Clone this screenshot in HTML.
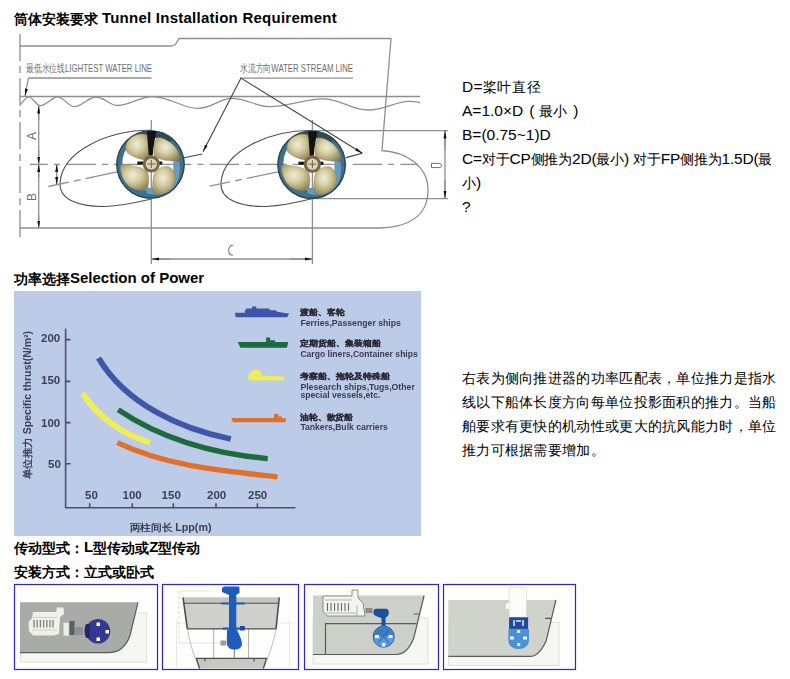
<!DOCTYPE html>
<html><head><meta charset="utf-8">
<style>
html,body{margin:0;padding:0;background:#fff;width:790px;height:679px;overflow:hidden;position:relative}
body{font-family:"Liberation Sans",sans-serif;font-size:14px;color:#000}
.t{position:absolute;white-space:nowrap}
.h{font-weight:bold}
.L{font-size:15.5px}
.h .L{font-size:15px;position:relative;top:-1px}
svg{position:absolute;left:0;top:0}
</style></head><body>
<svg width="790" height="679" viewBox="0 0 790 679">
<defs>
  <marker id="ar" viewBox="0 0 10 4" refX="10" refY="2" markerWidth="7.5" markerHeight="3.3" orient="auto" markerUnits="userSpaceOnUse">
    <path d="M0,0 L10,2 L0,4 z" fill="#111"/>
  </marker>
  <radialGradient id="blade" cx="0.45" cy="0.4" r="0.75">
    <stop offset="0" stop-color="#efeddc"/>
    <stop offset="0.4" stop-color="#d3ca9c"/>
    <stop offset="1" stop-color="#7f7347"/>
  </radialGradient>
  <g id="prop">
    <path fill-rule="evenodd" fill="#40708a" d="M-35,0 A34.2,34.2 0 1 0 33.4,0 A34.2,34.2 0 1 0 -35,0 z M-29,-1.5 A27,27 0 1 0 25,-1.5 A27,27 0 1 0 -29,-1.5 z"/>
    <circle cx="-0.8" cy="0" r="33.6" fill="none" stroke="#2a4855" stroke-width="1.4"/>
    <path d="M-20,-27 A34,34 0 0 1 22,-26 L17,-21 A27,27 0 0 0 -15,-22 z" fill="#2c4a58"/>
    
    <path d="M-5,23 C4,24 15,20 22,13 L22,-3 L28,-3 C30,10 27,21 18,27 C9,31 -1,31 -5,28 z" fill="#659ac2"/>
    <path d="M-3,-5 C-8,-4 -16,-6 -24,-12 C-28,-18 -24,-27 -14,-30 C-8,-31.5 -3,-30 -2,-27 C-1,-20 -1,-12 -3,-5 z" fill="url(#blade)" stroke="#8e8458" stroke-width="0.5"/>
    <path d="M3,-8 C2,-16 3,-24 6,-27 C14,-27 24,-20 27,-12 C29,-6 28,-3 25,-3 C18,-4 10,-4 3,-8 z" fill="url(#blade)" stroke="#8e8458" stroke-width="0.5"/>
    <path d="M-31,1 C-22,0 -10,2 -4,7 C-2,12 -2,19 -4,24 C-8,27 -16,26 -22,22 C-28,17 -31,9 -31,1 z" fill="url(#blade)" stroke="#8e8458" stroke-width="0.5"/>
    <path d="M3,9 C6,4 12,1.5 17,2 C22,4 25,10 24,17 C22,24 16,29 8,30 C4,30 2,29 1.5,27 C1,20 1.5,14 3,9 z" fill="url(#blade)" stroke="#8e8458" stroke-width="0.5"/>
    <path d="M-4,-33.5 L5,-33.5 C4,-28 3,-22 2,-16 L1.5,-9 L-2.5,-9 C-3,-15 -3.5,-22 -4,-28 z" fill="#121212"/>
    <rect x="-14" y="-3" width="25" height="3.2" fill="#1a1a1a"/>
    <circle cx="0" cy="-0.5" r="8.6" fill="#7a6843"/>
    <circle cx="0" cy="-0.5" r="5.6" fill="#dcd6c0"/>
    <path d="M-4,-0.5 h8 M0,-4.5 v8" stroke="#6d6148" stroke-width="1"/>
  </g>
</defs>
<!-- diagram 1 -->
<g fill="none" stroke="#8f8f8f" stroke-width="1.3">
  <line x1="20" y1="34" x2="20" y2="239" stroke-dasharray="27,5,7,5"/>
  <path d="M20,46 L171,46 Q175,46 177,42 L179,38.5 L391,38.5 L382,150.5 C405,152 428,165 428,190 C428,215 410,227 380,228 L20,228"/>
  <line x1="20" y1="96.5" x2="420" y2="96.5"/>
  <path d="M20,105.6 C24,100 26,96.8 28.8,96.8 C33,96.8 36,105.6 40,105.6 C47,105.6 52,96.8 57.4,96.8 C64,96.8 68,106.6 74,106.6 C82,106.6 89,97 95.7,97 C104,97 110,105.5 117,105.5 C130,105.5 140,96.6 152,96.6 C170,96.6 182,108.4 198,108.4 C212,108.4 220,98.3 231,98.3 C248,98.3 255,106.6 269,106.6 C290,106.6 305,98.8 322,98.8 C342,98.8 350,110 368,110 C385,110 396,101.3 408,101.3 C414,101.3 418,102 420,102.6"/>
  <!-- center line -->
  <line x1="29.8" y1="164.4" x2="47.8" y2="164.4"/>
  <line x1="53.9" y1="164.4" x2="59.9" y2="164.4"/>
  <line x1="66.5" y1="164.4" x2="418" y2="164.4" stroke-dasharray="29.5,6,6,6.2"/>
  <!-- ellipses -->
  <path stroke="#505050" stroke-width="1.1" d="M151,130.3 C110,130 62,150 60,183 C59,200 80,207 105,206.5 C125,205.5 140,201.5 151,199"/>
  <path stroke="#505050" stroke-width="1.1" d="M312,130.5 C271,130 223,150 221,183 C220,200 241,207 266,206.5 C286,205.5 301,201.5 312,198.7"/>
  <line x1="312" y1="130.6" x2="448" y2="130.6"/>
  <line x1="312" y1="198.7" x2="448" y2="198.7"/>
  <!-- verticals -->
  <line x1="151.3" y1="120" x2="151.3" y2="264"/>
  <line x1="312.4" y1="120" x2="312.4" y2="264"/>
  <!-- slanted flow lines -->
  <line x1="48.4" y1="186.5" x2="118" y2="171.6" stroke-dasharray="21,5,7,5,50"/>
  <line x1="209.6" y1="186.2" x2="279" y2="171.6" stroke-dasharray="21,5,7,5,50"/>
  <polyline stroke="#404040" stroke-width="1.1" points="184,157.7 202.3,154"/>
  <polyline stroke="#404040" stroke-width="1.1" points="346,157.6 362.3,153.2"/>
  <!-- label underlines + leaders -->
  <line x1="28.5" y1="78" x2="151.5" y2="78"/>
  <line x1="240" y1="78.2" x2="353" y2="78.2"/>
  <line x1="28.5" y1="78" x2="25" y2="96" marker-end="url(#ar)"/>
  <line x1="241" y1="78.1" x2="203" y2="151.8" stroke="#404040" stroke-width="1.1" marker-end="url(#ar)"/>
  <line x1="241" y1="78.1" x2="362.3" y2="153.2" stroke="#404040" stroke-width="1.1" marker-end="url(#ar)"/>
  <!-- A/B dim -->
  <line x1="38.7" y1="106" x2="38.7" y2="228" />
  <line x1="38.7" y1="120" x2="38.7" y2="106" marker-end="url(#ar)"/>
  <line x1="38.7" y1="150" x2="38.7" y2="164" marker-end="url(#ar)"/>
  <line x1="38.7" y1="178" x2="38.7" y2="164.5" marker-end="url(#ar)"/>
  <line x1="38.7" y1="215" x2="38.7" y2="228" marker-end="url(#ar)"/>
  <line x1="56.7" y1="164.5" x2="56.7" y2="184" />
  <line x1="56.7" y1="172" x2="56.7" y2="164.5" marker-end="url(#ar)"/>
  <line x1="56.7" y1="176" x2="56.7" y2="184.5" marker-end="url(#ar)"/>
  <!-- C dim -->
  <path d="M233.2,245.2 C229.6,245.2 228.7,247.8 228.7,250.3 C228.7,253.2 229.6,255.3 233.2,255.3" stroke="#7a7a7a" stroke-width="1.1"/>
  <line x1="151.3" y1="259" x2="312.4" y2="259"/>
  <line x1="170" y1="259" x2="151.5" y2="259" marker-end="url(#ar)"/>
  <line x1="290" y1="259" x2="312.2" y2="259" marker-end="url(#ar)"/>
  <!-- D dim -->
  <path d="M431.5,163.4 L438.5,163.4 C440.8,163.4 441.6,164.5 441.6,165.5 C441.6,166.6 440.8,167.6 438.5,167.6 L431.5,167.6 z" stroke="#6a6a6a" stroke-width="1"/>
  <line x1="445" y1="130.6" x2="445" y2="198.7"/>
  <line x1="445" y1="150" x2="445" y2="131" marker-end="url(#ar)"/>
  <line x1="445" y1="180" x2="445" y2="198.3" marker-end="url(#ar)"/>
</g>
<use href="#prop" x="151.3" y="164.5"/>
<use href="#prop" x="312.4" y="164.7"/>
<g fill="#6e6e6e" font-family="Liberation Sans" font-size="11">
  <text x="26" y="71.5" textLength="126" lengthAdjust="spacingAndGlyphs">最低水位线LIGHTEST WATER LINE</text>
  <text x="240" y="72" textLength="113" lengthAdjust="spacingAndGlyphs">水流方向WATER STREAM LINE</text>
  
  <text transform="translate(36,140) rotate(-90)" font-size="12">A</text>
  <text transform="translate(36,201) rotate(-90)" font-size="12">B</text>
  
</g>

<!-- chart -->
<defs>
  <filter id="blur1" x="-5%" y="-5%" width="110%" height="110%"><feGaussianBlur stdDeviation="0.5"/></filter>
</defs>
<rect x="14" y="291" width="407" height="245" fill="#bccbe7"/>
<g filter="url(#blur1)">
<g stroke="#4a5070" stroke-width="1.6" fill="none">
  <line x1="65.6" y1="328.6" x2="65.6" y2="508"/>
  <line x1="65" y1="507.8" x2="295.5" y2="507.8"/>
  <path d="M66,339.6 h4.5 M66,381.4 h4.5 M66,422.6 h4.5 M66,463.8 h4.5"/>
  <path d="M89.7,507.8 v-4.5 M132.3,507.8 v-4.5 M173.3,507.8 v-4.5 M216,507.8 v-4.5 M257.4,507.8 v-4.5"/>
</g>
<g fill="none" stroke-width="5.5" stroke-linecap="butt">
  <path d="M98.5,358.0 C125.5,403.6 179.9,428.8 230.8,439.0" stroke="#3f57a8" stroke-width="5.8"/>
  <path d="M118.2,409.8 C162.4,439.7 215.0,454.0 267.7,458.7" stroke="#1d6b3d" stroke-width="5.3"/>
  <path d="M117.4,442.6 C167.2,466.5 223.4,470.9 277.5,476.9" stroke="#e0702c" stroke-width="5.3"/>
  <path d="M82.5,393.5 C98.3,417.2 122.8,434.6 150.1,442.6" stroke="#eeed5a" stroke-width="6"/>
</g>
<!-- ships -->
<path d="M235,312.8 L244.8,312.8 L244.8,310.2 L246,310.2 L246,308.4 L252,308.4 L252,306.6 L256.3,306.6 L256.3,308.4 L269.6,308.4 L269.6,310.2 L276.3,310.2 L276.3,311.5 L283,312.8 L289.1,313.5 L287.3,317.3 L235.5,317.3 z" fill="#3c55a8"/>
<path d="M237.7,342.1 L266.1,342.1 L266.1,337.6 L270.1,337.6 L270.1,340.3 L274.9,340.3 L274.9,342.1 L288.2,342.1 L287,347.8 L240.5,347.8 z" fill="#1d6b3d"/>
<path d="M247.4,378 L250,373 L253,370 L258,369.8 L261,372 L262,375.6 L284.3,376.5 L284,380.3 L250,380.5 z" fill="#eeed5a"/>
<path d="M231.3,418 L274,418 L274,414 L278.5,414 L278.5,416.4 L282,416.4 L282,418 L286.2,418.5 L285.5,422.3 L233,422.3 z" fill="#e0702c"/>
<g fill="#3a3f55" font-family="Liberation Sans" font-weight="bold">
<text x="41" y="342.2" font-size="11.5">200</text>
  <text x="41" y="384" font-size="11.5">150</text>
  <text x="41" y="426.6" font-size="11.5">100</text>
  <text x="48" y="467.8" font-size="11.5">50</text>
  <text x="85" y="499.2" font-size="11.5">50</text>
  <text x="122.5" y="499.2" font-size="11.5">100</text>
  <text x="161.6" y="499.2" font-size="11.5">150</text>
  <text x="207" y="499.2" font-size="11.5">200</text>
  <text x="248" y="499.2" font-size="11.5">250</text>
  <text x="129.5" y="530.5" font-size="10" textLength="82" lengthAdjust="spacingAndGlyphs">两柱间长 Lpp(m)</text>
  <text transform="translate(31,479) rotate(-90)" font-size="10" textLength="148" lengthAdjust="spacingAndGlyphs">单位推力 Specific thrust(N/m²)</text>
  <text x="300.4" y="315.2" font-size="7.5" fill="#2c2c38" stroke="#2c2c38" stroke-width="0.3" textLength="44" lengthAdjust="spacingAndGlyphs">渡船、客轮</text>
  <text x="300.4" y="325.6" font-size="9.6" fill="#3a3e50" textLength="100.5" lengthAdjust="spacingAndGlyphs">Ferries,Passenger ships</text>
  <text x="300.4" y="346.3" font-size="7.5" fill="#2c2c38" stroke="#2c2c38" stroke-width="0.3" textLength="80" lengthAdjust="spacingAndGlyphs">定期货船、集装箱船</text>
  <text x="300.4" y="357.3" font-size="9.6" fill="#3a3e50" textLength="117.4" lengthAdjust="spacingAndGlyphs">Cargo liners,Container ships</text>
  <text x="300.4" y="378.7" font-size="7.5" fill="#2c2c38" stroke="#2c2c38" stroke-width="0.3" textLength="89.4" lengthAdjust="spacingAndGlyphs">考察船、拖轮及特殊船</text>
  <text x="300.4" y="389.6" font-size="9.6" fill="#3a3e50" textLength="114.4" lengthAdjust="spacingAndGlyphs">Plesearch ships,Tugs,Other</text>
  <text x="300.4" y="398.3" font-size="9.6" fill="#3a3e50" textLength="80" lengthAdjust="spacingAndGlyphs">special vessels,etc.</text>
  <text x="300.4" y="419.7" font-size="7.5" fill="#2c2c38" stroke="#2c2c38" stroke-width="0.3" textLength="52.4" lengthAdjust="spacingAndGlyphs">油轮、散货船</text>
  <text x="300.4" y="430.3" font-size="9.6" fill="#3a3e50" textLength="87.4" lengthAdjust="spacingAndGlyphs">Tankers,Bulk carriers</text>
</g>
</g>

<!-- bottom images -->
<g>
  <!-- image 1 -->
  <rect x="14.5" y="584.5" width="143" height="85" fill="#fdfdfb" stroke="#2e24cc" stroke-width="1.2"/>
  <rect x="20.5" y="613" width="126" height="49" fill="#f6f6f2" stroke="#e0e0dc" stroke-width="1"/>
  <path d="M20,602.3 L138,602.3 L130,635.5 C126,647 118,652.7 108,652.7 L20,652.7 z" fill="#a9aca6"/>
  <path d="M20,652.7 L108,652.7 C118,652.7 126,647 130,635.5 L138,602.3" fill="none" stroke="#5c5e5a" stroke-width="1.2"/>
  <path d="M33,612 L56,612 L57,607.6 L63.5,607.6 L64,614 L60,617 L59,634 L54,635.5 L33,635.5 L29,631 L28.6,622 L32,618 z" fill="#f0f0ea"/>
  <rect x="63.5" y="622.8" width="5.3" height="12.9" fill="#eeeee8"/>
  <path d="M34,620 v7.5 M37.2,620 v7.5 M40.4,620 v7.5 M43.6,620 v7.5 M46.8,620 v7.5 M50,620 v7.5 M53,620 v7.5" stroke="#7c7e78" stroke-width="1.3"/>
  <path d="M33,617.5 h24 M32,630 h25" stroke="#c8c8c2" stroke-width="0.8"/>
  <rect x="69.5" y="621" width="5" height="14" fill="#5c5e66"/>
  <rect x="75" y="627" width="8" height="8" fill="#8e9098"/>
  <circle cx="98" cy="631.3" r="12.3" fill="#33398e"/>
  <path d="M86,624 C84,628 84,634 86,638 L90,638 L90,624 z" fill="#26286a"/>
  <rect x="96.5" y="622.5" width="3.5" height="3.5" fill="#fff"/>
  <rect x="105.5" y="630" width="3.5" height="3.5" fill="#fff"/>
  <rect x="96.5" y="637.5" width="3.5" height="3.5" fill="#fff"/>
  <!-- image 2 -->
  <rect x="162.5" y="584.5" width="136" height="85" fill="#fdfdfb" stroke="#2e24cc" stroke-width="1.2"/>
  <path d="M176.5,620 L176.5,668 M289.5,620 L289.5,668 M176.5,623 L289.5,623" fill="none" stroke="#e2e2de" stroke-width="0.8"/>
  <path d="M179,591 L179,645" fill="none" stroke="#d0d0cc" stroke-width="0.8" stroke-dasharray="3,2"/>
  <path d="M180,591 L210,591 M180,643 L220,643" fill="none" stroke="#d8d8d4" stroke-width="0.7"/>
  <path d="M187.4,629 C190,645 195,658 199.6,668.6" fill="none" stroke="#b8b8b4" stroke-width="0.9"/>
  <path d="M276,629 C273,645 268,658 263.3,668.6" fill="none" stroke="#b8b8b4" stroke-width="0.9"/>
  <line x1="213.7" y1="629" x2="213.7" y2="658" stroke="#b0b0ac" stroke-width="1"/>
  <line x1="248.5" y1="629" x2="248.5" y2="658" stroke="#b0b0ac" stroke-width="1"/>
  <path d="M183,597.5 L279.3,597.5 L276,628.9 L187.4,628.9 z" fill="#cfcfcb"/>
  <path d="M183,597.5 L279.3,597.5 L278.7,603.3 L183.8,603.3 z" fill="#c4c4c0"/>
  <path d="M183.8,603.3 L278.7,603.3 M187.4,628.9 L276,628.9" fill="none" stroke="#4e4e4c" stroke-width="1.1"/>
  <path d="M183,597.5 L187.4,628.9 M279.3,597.5 L276,628.9" fill="none" stroke="#4e4e4c" stroke-width="1.6"/>
  <path d="M196.4,658.4 L266.5,658.4 L263.3,668.6 L199.6,668.6 z" fill="#c8c8c3"/>
  <path d="M199.6,668.6 L196.4,658.4 L266.5,658.4 L263.3,668.6" fill="none" stroke="#4e4e4c" stroke-width="1.3"/>
  <line x1="234.4" y1="648" x2="234.4" y2="658" stroke="#8a8a88" stroke-width="1.2"/>
  <path d="M205,658.4 v3 M254,658.4 v3" stroke="#4e4e4c" stroke-width="1.2"/>
  <rect x="229" y="593" width="7.3" height="38" fill="#1f5cb8"/>
  <path d="M222,589 C222,587 224,586.6 226,586.6 L238,586.6 C239.5,586.6 239.5,588 239.5,589 L239.5,593 L236,595 L229,595 L222,592 z" fill="#1f5cb8"/>
  <path d="M221.4,603.5 L244.7,603.5 M222.7,628.5 L244.7,628.5" stroke="#1f5cb8" stroke-width="1.8"/>
  <rect x="240" y="626" width="4.7" height="4.5" fill="#1a4a98"/>
  <path d="M227,630 L237,630 C239,634 242,640 242,644 C242,648 238,650 233,649.5 C229,649 226.5,646 226.7,642 C227,638 227,634 227,630 z" fill="#1f5cb8"/>
  <rect x="220.5" y="640.5" width="5.5" height="5" fill="#9a9aa0"/>
  <!-- image 3 -->
  <rect x="304.5" y="584.5" width="134" height="85" fill="#fdfdfb" stroke="#2e24cc" stroke-width="1.2"/>
  <rect x="313" y="618" width="115" height="46" fill="#f6f6f2" stroke="#e0e0dc" stroke-width="1"/>
  <path d="M313,595.5 L424.1,595.5 L413.8,637.8 C410,648 404,654.5 396,654.5 L313,654.5 z" fill="#cdcfc9"/>
  <path d="M313,654.5 L396,654.5 C404,654.5 410,648 413.8,637.8 L424.1,595.5 M325.5,654.5 L325.5,623.7 L416.4,623.7 M413.8,614 L419,614" fill="none" stroke="#5a5a58" stroke-width="1.2"/>
  <path d="M323,596 L352,596 L352,590 L358,590 L358,598 L363,603 L365,616 L327,616 L323,611 z" fill="#f3f3ef" stroke="#777775" stroke-width="0.8"/>
  <path d="M327.5,603 v8 M331,603 v8 M334.5,603 v8 M338,603 v8 M341.5,603 v8 M345,603 v8 M348.5,603 v8" stroke="#6c6c6a" stroke-width="1.1"/>
  <path d="M325,600 h27 M326,613 h30 M357,605 v11" stroke="#9a9a98" stroke-width="0.7"/>
  <rect x="365.5" y="608" width="7" height="5" fill="#8a8a8c"/>
  <path d="M373.5,611 C373.5,609 376,608.5 379,608.8 L386,608.8 C388.5,609 389,611 388.8,613.5 C388.5,616 386.5,617 385.5,618 L385.5,626 L381.5,626 L381.5,618 C379,617 375,616.5 373.5,614 z" fill="#1a50a0"/>
  <circle cx="383.7" cy="636.6" r="10.6" fill="#5a9ee0" stroke="#2f5f9e" stroke-width="1"/>
  <path d="M373.6,636.6 A10.1,10.1 0 0 1 393.8,636.6 z" fill="#3d7cc4"/>
  <path d="M375,636.6 h4 M388.5,636.6 h4 M383.7,643 v3.5" stroke="#fff" stroke-width="3"/>
  <path d="M378,630 L389,643 M389,630 L378,643" stroke="#3a70b8" stroke-width="1.2"/>
  <!-- image 4 -->
  <rect x="443.5" y="584.5" width="132" height="85" fill="#fdfdfb" stroke="#2e24cc" stroke-width="1.2"/>
  <rect x="448.5" y="622.5" width="110.5" height="43" fill="#f6f6f2" stroke="#e0e0dc" stroke-width="1"/>
  <path d="M448.3,600 L555.9,600 L546.3,640.4 C542,650 537,656.4 530,656.4 L448.3,656.4 z" fill="#d0d2cc"/>
  <path d="M448.3,656.4 L530,656.4 C537,656.4 542,650 546.3,640.4 L555.9,600 M545,618.4 L551.4,618.4" fill="none" stroke="#5a5a58" stroke-width="1.2"/>
  <rect x="509.1" y="587.8" width="17.3" height="29.5" fill="#fbfbf8" stroke="#d8d8d4" stroke-width="0.6"/>
  <rect x="505.9" y="603.2" width="3.2" height="5.8" fill="#fbfbf8"/>
  <rect x="509.1" y="617.3" width="19" height="11.6" fill="#1c4a9c"/>
  <path d="M514,620 v6 M523,620 v6 M516,621 L521,621" stroke="#e8eef8" stroke-width="1.5"/>
  <path d="M508.4,628.9 L529,628.9 L529,640 C529,646 524,649 518.7,649 C513,649 508.4,646 508.4,640 z" fill="#4a90d4"/>
  <path d="M510,638 h4 M523,638 h4 M518.7,630 v3 M518.7,643 v3" stroke="#e8f0fa" stroke-width="3"/>
</g>
</svg>
<div class="t h" style="left:14px;top:10px">筒体安装要求 <span class="L" style="letter-spacing:0.25px">Tunnel Installation Requirement</span></div>
<div class="t" style="left:462px;top:78px"><span class="L" style="letter-spacing:0.3px">D=</span><span style="letter-spacing:0.6px">桨叶直径</span></div>
<div class="t" style="left:462px;top:102px"><span class="L">A=1.0×D</span><span class="L" style="margin-left:6px">(</span><span style="margin-left:5px">最小</span><span class="L" style="margin-left:6px">)</span></div>
<div class="t" style="left:462px;top:126px"><span class="L">B=(0.75~1)D</span></div>
<div class="t" style="left:462px;top:150px;letter-spacing:-0.2px"><span class="L">C=</span>对于<span class="L">CP</span>侧推为<span class="L">2D(</span>最小<span class="L">) </span>对于<span class="L">FP</span>侧推为<span class="L">1.5D(</span>最</div>
<div class="t" style="left:462px;top:174px">小<span class="L">)</span></div>
<div class="t" style="left:462px;top:198px"><span class="L">?</span></div>
<div class="t h" style="left:14px;top:270px">功率选择<span class="L">Selection of Power</span></div>
<div class="t" style="left:462px;top:366px;line-height:24px;letter-spacing:0.3px">右表为侧向推进器的功率匹配表，单位推力是指水<br>线以下船体长度方向每单位投影面积的推力。当船<br>舶要求有更快的机动性或更大的抗风能力时，单位<br>推力可根据需要增加。</div>
<div class="t h" style="left:14px;top:539px">传动型式：<span class="L">L</span>型传动或<span class="L">Z</span>型传动</div>
<div class="t h" style="left:14px;top:564px">安装方式：立式或卧式</div>
</body></html>
